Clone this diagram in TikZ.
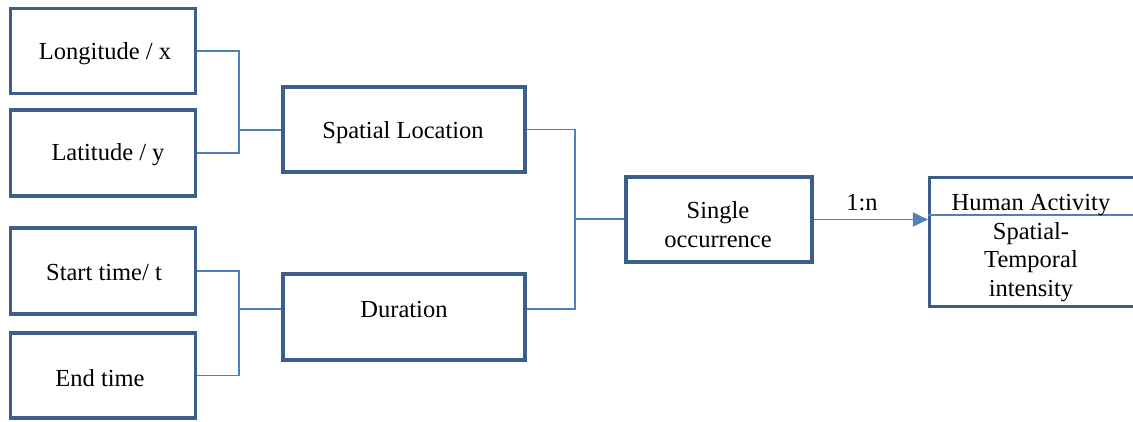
\documentclass[tikz,border=0pt]{standalone}
\usepackage{fontspec}
\setmainfont{Liberation Serif}
\usetikzlibrary{arrows.meta}
\definecolor{boxc}{HTML}{3B5E8C}
\definecolor{linec}{HTML}{4F81BD}
\begin{document}
\begin{tikzpicture}[x=1pt,y=-1pt,
  box/.style={draw=boxc,line width=3.2pt,inner sep=0pt,fill=white},
  conn/.style={draw=linec,line width=1.7pt},
  lbl/.style={font=\fontsize{24.5}{29}\selectfont,align=center,inner sep=0pt,yshift=-3pt}]
\useasboundingbox (0,0) rectangle (1133,421);
% boxes
\node[box,minimum width=185pt,minimum height=85pt] (lon) at (103,51) {};
\node[box,minimum width=185pt,minimum height=86pt] (lat) at (103,153) {};
\node[box,minimum width=185pt,minimum height=86pt] (st) at (103,271) {};
\node[box,minimum width=185pt,minimum height=85pt] (en) at (103,375.5) {};
\node[box,minimum width=242pt,minimum height=85pt] (sp) at (404,129.5) {};
\node[box,minimum width=242pt,minimum height=86pt] (dur) at (404,317) {};
\node[box,minimum width=186pt,minimum height=85pt] (sg) at (719,219.5) {};
\node[box,minimum width=216pt,minimum height=129pt] (hu) at (1037.5,242) {};
% texts
\node[lbl] (lonT) at (105,51) {Longitude / x};
\node[lbl] (latT) at (108,152) {Latitude / y};
\node[lbl] (stT) at (104,270) {Start time/ t};
\node[lbl] (enT) at (100,375) {End time};
\node[lbl] (spT) at (403,130) {Spatial Location};
\node[lbl] (durT) at (404,307) {Duration};
\node[lbl] (sgT) at (718,221.5) {Single\\occurrence};
% connectors
\coordinate (j1) at (239,130);
\coordinate (j2) at (239,309);
\coordinate (j3) at (575,219);
\coordinate (hl) at (1140,215);
\draw[conn] (lon.east) -| (j1) |- (lat.east);
\draw[conn] (j1) -- (sp.west |- j1);
\draw[conn] (st.east) -| (j2) |- (en.east);
\draw[conn] (j2) -- (dur.west |- j2);
\draw[conn] (sp.east) -| (j3) |- (dur.east |- j2);
\draw[conn] (j3) -- (sg.west |- j3);
\draw[conn,-{Triangle[length=15pt,width=14pt]}] (sg.east) -- (hu.west |- sg.east);
\node[lbl] (ratio) at (862,200) {1:n};
\draw[conn,line width=1.3pt] (hu.west |- hl) -- (hl);
\node[lbl,font=\fontsize{24.5}{28.5}\selectfont] (huT) at (1031,245) {Human Activity\\Spatial-\\Temporal\\intensity};
\end{tikzpicture}
\end{document}
